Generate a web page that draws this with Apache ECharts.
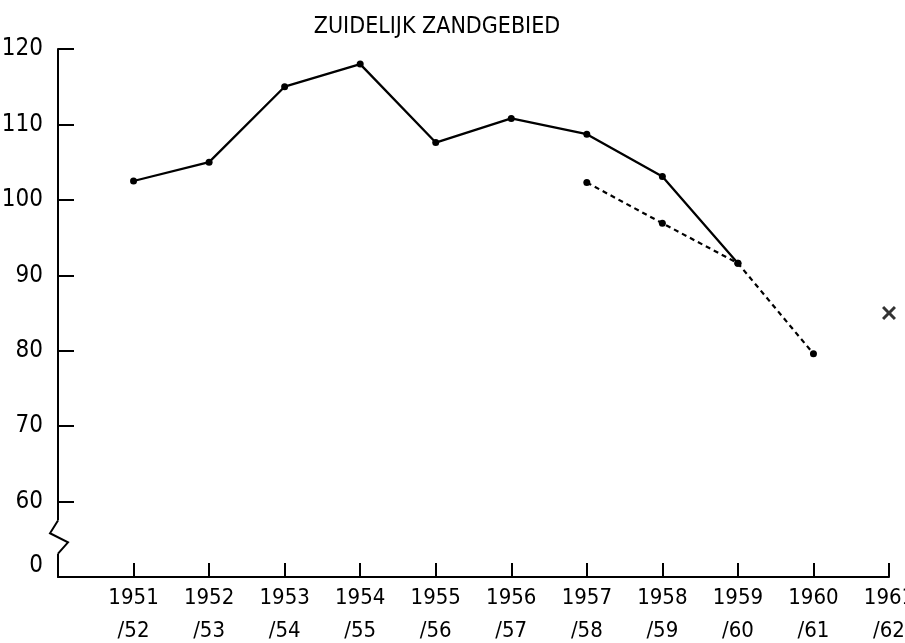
<!DOCTYPE html>
<html>
<head>
<meta charset="utf-8">
<script src="https://cdn.jsdelivr.net/npm/echarts@6/dist/echarts.min.js"></script>
<style>
  html, body { margin: 0; padding: 0; background: #fff; }
  #chart { width: 905px; height: 643px; }
</style>
</head>
<body>
<div id="chart"></div>
<script>
// gegevens
const years = [1951, 1952, 1953, 1954, 1955, 1956, 1957, 1958, 1959, 1960, 1961]
const solidValues = [102.5, 105.0, 115.0, 118.0, 107.6, 110.8, 108.7, 103.1, 91.6, null, null]
const dashedValues = [null, null, null, null, null, null, 102.3, 96.9, 91.6, 79.6, null]
const crossValues = [null, null, null, null, null, null, null, null, null, null, 85.0]
const yTicks = [50, 60, 70, 80, 90, 100, 110, 120]

const font = '"DejaVu Sans Condensed", "Liberation Sans Narrow", sans-serif'
const ink = '#000'

function pairs (vals) {
  return years.map((y, i) => [y, vals[i]]).filter(p => p[1] !== null)
}

const chart = echarts.init(document.getElementById('chart'), null, { renderer: 'canvas' })

chart.setOption({
  animation: false,
  backgroundColor: '#fff',
  title: {
    text: 'ZUIDELIJK ZANDGEBIED',
    left: 432,
    top: 11,
    textAlign: 'center',
    textStyle: { fontFamily: font, fontSize: 23, fontWeight: 'normal', color: ink }
  },
  grid: { left: 58, right: 16, top: 49, bottom: 66, outerBoundsMode: 'none', containLabel: false },
  xAxis: {
    type: 'value',
    min: 1950,
    max: 1961,
    interval: 1,
    splitLine: { show: false },
    axisLine: { lineStyle: { color: ink, width: 2 } },
    axisTick: { inside: true, length: 14, lineStyle: { color: ink, width: 2 } },
    axisLabel: {
      margin: 5,
      fontFamily: font,
      fontSize: 22,
      lineHeight: 33,
      color: ink,
      showMinLabel: false,
      formatter: v => v === 1950 ? '' : v + '\n/' + String(v + 1).slice(2)
    }
  },
  yAxis: {
    type: 'value',
    min: yTicks[0],
    max: yTicks[yTicks.length - 1],
    interval: 10,
    splitLine: { show: false },
    axisLine: { lineStyle: { color: ink, width: 2 } },
    axisTick: { inside: true, length: 16, lineStyle: { color: ink, width: 2 } },
    axisLabel: {
      margin: 15,
      fontFamily: font,
      fontSize: 24,
      color: ink,
      formatter: v => v === 50 ? '{z|0}' : String(v),
      rich: { z: { fontFamily: font, fontSize: 24, color: ink, padding: [0, 0, 22, 0] } }
    }
  },
  series: [
    {
      name: 'solid',
      type: 'line',
      data: pairs(solidValues),
      symbol: 'circle',
      symbolSize: 7,
      itemStyle: { color: ink },
      lineStyle: { color: ink, width: 2.3 }
    },
    {
      name: 'dashed',
      type: 'line',
      data: pairs(dashedValues),
      symbol: 'circle',
      symbolSize: 7,
      itemStyle: { color: ink },
      lineStyle: { color: ink, width: 2.2, type: [5, 4] }
    },
    {
      name: 'cross',
      type: 'scatter',
      data: pairs(crossValues),
      symbol: 'path://M0,1.5L1.5,0L5,3.5L8.5,0L10,1.5L6.5,5L10,8.5L8.5,10L5,6.5L1.5,10L0,8.5L3.5,5Z',
      symbolSize: 14,
      itemStyle: { color: ink }
    }
  ]
})

// asbreuk tussen 0 en 60
const ax = chart.convertToPixel({ xAxisIndex: 0 }, 1950)
const y60 = chart.convertToPixel({ yAxisIndex: 0 }, 60)
const y50 = chart.convertToPixel({ yAxisIndex: 0 }, 50)
const h = y50 - y60
const ya = y60 + h * 0.25
const yb = y60 + h * 0.42
const yc = y60 + h * 0.54
const yd = y60 + h * 0.69
chart.setOption({
  graphic: [
    { type: 'rect', shape: { x: ax - 4, y: ya, width: 8, height: yd - ya }, style: { fill: '#fff' }, z: 10 },
    {
      type: 'polyline',
      shape: { points: [[ax, ya], [ax - 8, yb], [ax + 10, yc], [ax, yd]] },
      style: { stroke: ink, lineWidth: 2, fill: null },
      z: 11
    }
  ]
})
</script>
</body>
</html>
